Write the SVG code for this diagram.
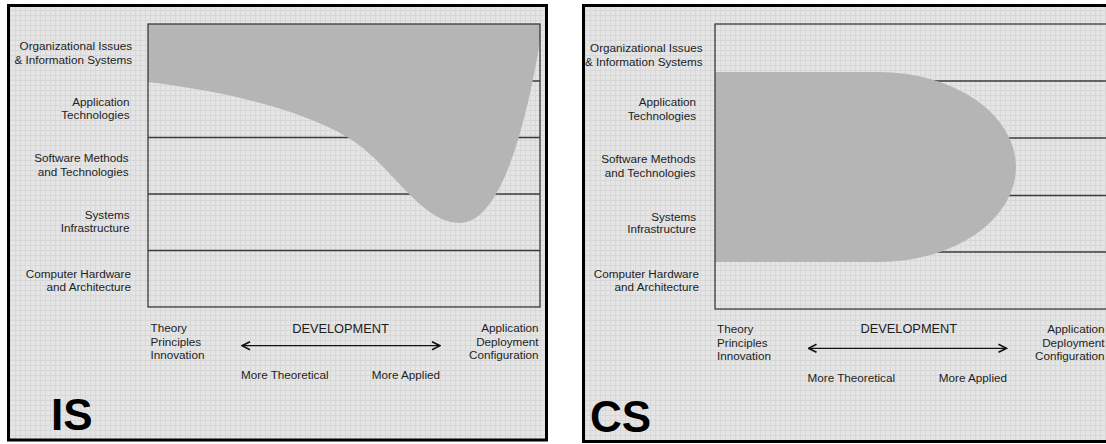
<svg xmlns="http://www.w3.org/2000/svg" width="1106" height="444" viewBox="0 0 1106 444">
  <defs>
    <!-- fine graph-paper texture used for both panels -->
    <pattern id="grid" width="5" height="5" patternUnits="userSpaceOnUse">
      <rect width="5" height="5" fill="#e5e5e5"/>
      <path d="M0,0.5 H5 M0.5,0 V5" stroke="#d8d8d8" stroke-width="1" fill="none"/>
    </pattern>
    <marker id="chev" viewBox="0 0 10 10" refX="9" refY="5" markerWidth="10" markerHeight="10" markerUnits="userSpaceOnUse" orient="auto-start-reverse">
      <path d="M1,1 L9,5 L1,9" fill="none" stroke="#111" stroke-width="1.6"/>
    </marker>
    <style>
      .panel { fill: url(#grid); stroke: #000; stroke-width: 3; }
      .box { fill: none; stroke: #3a3a3a; stroke-width: 1.3; }
      .row { stroke: #3a3a3a; stroke-width: 1.3; }
      .area { fill: #b5b5b5; }
      .lbl { font-family: "Liberation Sans", Arial, sans-serif; font-size: 11.7px; fill: #1e1e1e; }
      .end { text-anchor: end; }
      .dev { font-family: "Liberation Sans", Arial, sans-serif; font-size: 12.8px; fill: #1e1e1e; text-anchor: middle; }
      .big { font-family: "Liberation Sans", Arial, sans-serif; font-size: 44px; font-weight: bold; fill: #000; }
      .arrow { stroke: #111; stroke-width: 1.3; fill: none; marker-start: url(#chev); marker-end: url(#chev); }
    </style>
  </defs>

  <rect width="1106" height="444" fill="#ffffff"/>

  <!-- IS panel -->
  <g id="is-panel">
    <rect class="panel" x="8.5" y="5.5" width="538" height="434.5"/>
    <g id="is-rows">
      <line class="row" x1="148" y1="81" x2="540" y2="81"/>
      <line class="row" x1="148" y1="137.5" x2="540" y2="137.5"/>
      <line class="row" x1="148" y1="194" x2="540" y2="194"/>
      <line class="row" x1="148" y1="250.5" x2="540" y2="250.5"/>
    </g>
    <path id="is-area" class="area" d="M148,24 H540 V42 C525,130 500,223 460,223 C420,223 390,162 347,137 C300,110 230,92 148,82 Z"/>
    <rect class="box" x="148" y="24" width="392" height="283"/>

    <g id="is-labels">
      <text class="lbl end" x="132" y="50">Organizational Issues</text>
      <text class="lbl end" x="132" y="63.5">&amp; Information Systems</text>
      <text class="lbl end" x="129.5" y="105.5">Application</text>
      <text class="lbl end" x="129.5" y="119">Technologies</text>
      <text class="lbl end" x="128.5" y="162">Software Methods</text>
      <text class="lbl end" x="128.5" y="175.5">and Technologies</text>
      <text class="lbl end" x="129.5" y="219">Systems</text>
      <text class="lbl end" x="129.5" y="232">Infrastructure</text>
      <text class="lbl end" x="131" y="277.5">Computer Hardware</text>
      <text class="lbl end" x="131" y="290.5">and Architecture</text>
    </g>

    <g id="is-axis">
      <text class="lbl" x="150.5" y="332">Theory</text>
      <text class="lbl" x="150.5" y="345.5">Principles</text>
      <text class="lbl" x="150.5" y="359">Innovation</text>
      <text class="dev" x="340.5" y="332.5">DEVELOPMENT</text>
      <text class="lbl" x="241" y="379">More Theoretical</text>
      <text class="lbl end" x="440" y="379">More Applied</text>
      <text class="lbl end" x="538.5" y="332">Application</text>
      <text class="lbl end" x="538.5" y="345.5">Deployment</text>
      <text class="lbl end" x="538.5" y="359">Configuration</text>
    </g>
    <text id="is-title" class="big" x="51" y="430">IS</text>
  </g>

  <!-- CS panel -->
  <g id="cs-panel">
    <rect class="panel" x="583.5" y="5.5" width="600" height="436"/>
    <g id="cs-rows">
      <line class="row" x1="715" y1="81" x2="1106" y2="81"/>
      <line class="row" x1="715" y1="138" x2="1106" y2="138"/>
      <line class="row" x1="715" y1="195.5" x2="1106" y2="195.5"/>
      <line class="row" x1="715" y1="252" x2="1106" y2="252"/>
    </g>
    <path id="cs-area" class="area" d="M715,72 H878.6 A137.4,95 0 0 1 878.6,262 H715 Z"/>
    <rect class="box" x="715" y="24" width="420" height="285"/>

    <g id="cs-labels">
      <text class="lbl end" x="702.5" y="52">Organizational Issues</text>
      <text class="lbl end" x="702.5" y="65.5">&amp; Information Systems</text>
      <text class="lbl end" x="696" y="106">Application</text>
      <text class="lbl end" x="696" y="119.5">Technologies</text>
      <text class="lbl end" x="695.5" y="162.5">Software Methods</text>
      <text class="lbl end" x="695.5" y="176.5">and Technologies</text>
      <text class="lbl end" x="696" y="220.5">Systems</text>
      <text class="lbl end" x="696" y="233">Infrastructure</text>
      <text class="lbl end" x="699" y="278">Computer Hardware</text>
      <text class="lbl end" x="699" y="291">and Architecture</text>
    </g>

    <g id="cs-axis">
      <text class="lbl" x="717" y="333">Theory</text>
      <text class="lbl" x="717" y="346.5">Principles</text>
      <text class="lbl" x="717" y="360">Innovation</text>
      <text class="dev" x="908.8" y="333">DEVELOPMENT</text>
      <text class="lbl" x="807.5" y="381.5">More Theoretical</text>
      <text class="lbl end" x="1007" y="381.5">More Applied</text>
      <text class="lbl end" x="1104.5" y="333">Application</text>
      <text class="lbl end" x="1104.5" y="346.5">Deployment</text>
      <text class="lbl end" x="1104.5" y="360">Configuration</text>
    </g>
    <text id="cs-title" class="big" x="590" y="432">CS</text>
  </g>

  <!-- axis connectors -->
  <g id="connectors">
    <line class="arrow" x1="242" y1="345.7" x2="440" y2="345.7"/>
    <line class="arrow" x1="808.5" y1="348.3" x2="1006.5" y2="348.3"/>
  </g>
</svg>
